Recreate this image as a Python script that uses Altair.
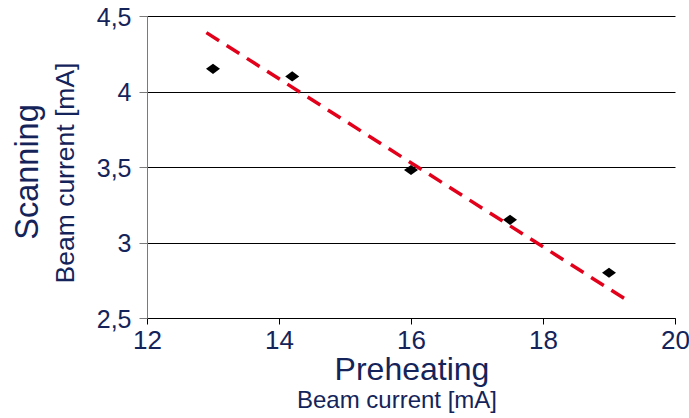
import altair as alt
import pandas as pd

# ---- data ----
pre_x = [13.0, 14.2, 16.0, 17.5, 19.0]
scan_y = [4.15, 4.10, 3.48, 3.15, 2.80]
trend_x = [12.9, 19.3]
trend_y = [4.39, 2.61]
x_ticks = [12, 14, 16, 18, 20]
y_ticks = [2.5, 3.0, 3.5, 4.0, 4.5]
x_title = ["Preheating"]
y_title = ["Scanning"]
unit = ["Beam current [mA]"]

NAVY = "#14245a"
FONT = "Liberation Sans"

pts = pd.DataFrame({"x": pre_x, "y": scan_y})
trend = pd.DataFrame({"x": trend_x, "y": trend_y})

xs = alt.Scale(domain=[12, 20], nice=False, zero=False)
ys = alt.Scale(domain=[2.5, 4.5], nice=False, zero=False)

xaxis = alt.Axis(values=x_ticks, title=None, grid=False, domainColor="#000000",
                 domainWidth=1, tickColor="#000000", tickSize=6, labelFontSize=26,
                 labelColor=NAVY, labelFont=FONT, labelPadding=3, format="d",
                 labelFlush=False, labelOverlap=False)
yaxis = alt.Axis(values=y_ticks, title=None, grid=True, gridColor="#000000",
                 gridWidth=1, gridOpacity=1, domainColor="#7a7a7a", domainWidth=1,
                 tickColor="#7a7a7a", tickSize=8, labelFontSize=25, labelColor=NAVY,
                 labelFont=FONT, labelPadding=8, labelFlush=False, labelOverlap=False,
                 labelOffset=1,
                 labelExpr="datum.value % 1 === 0 ? format(datum.value, 'd') : replace(format(datum.value, '.1f'), '.', ',')")

base = alt.Chart(pts)

points = base.mark_point(
    shape="M-1,0L0,-0.72L1,0L0,0.72Z", filled=True, size=196, color="#000000", opacity=1
).encode(
    x=alt.X("x:Q", scale=xs, axis=xaxis),
    y=alt.Y("y:Q", scale=ys, axis=yaxis),
)

line = alt.Chart(trend).mark_line(
    color="#e2001a", strokeDash=[15, 9], strokeWidth=3.5
).encode(
    x=alt.X("x:Q", scale=xs),
    y=alt.Y("y:Q", scale=ys),
)

t_x = alt.Chart(pd.DataFrame({"t": x_title})).mark_text(
    font=FONT, fontSize=32, color=NAVY, align="center", baseline="alphabetic"
).encode(text="t:N", x=alt.value(265), y=alt.value(364))

t_xu = alt.Chart(pd.DataFrame({"t": unit})).mark_text(
    font=FONT, fontSize=24, color=NAVY, align="center", baseline="alphabetic"
).encode(text="t:N", x=alt.value(250), y=alt.value(392))

t_y = alt.Chart(pd.DataFrame({"t": y_title})).mark_text(
    font=FONT, fontSize=32.5, color=NAVY, align="center", baseline="alphabetic", angle=270
).encode(text="t:N", x=alt.value(-109), y=alt.value(156))

t_yu = alt.Chart(pd.DataFrame({"t": unit})).mark_text(
    font=FONT, fontSize=26.5, color=NAVY, align="center", baseline="alphabetic", angle=270
).encode(text="t:N", x=alt.value(-73), y=alt.value(157))

chart = alt.layer(line, points, t_x, t_xu, t_y, t_yu).properties(
    width=528, height=302,
    autosize=alt.AutoSizeParams(type="none"),
    padding={"left": 147, "top": 16, "right": 14, "bottom": 100},
    background="white",
).configure_view(stroke=None)

chart.save("out.html", embed_options={"renderer": "svg", "actions": False})
